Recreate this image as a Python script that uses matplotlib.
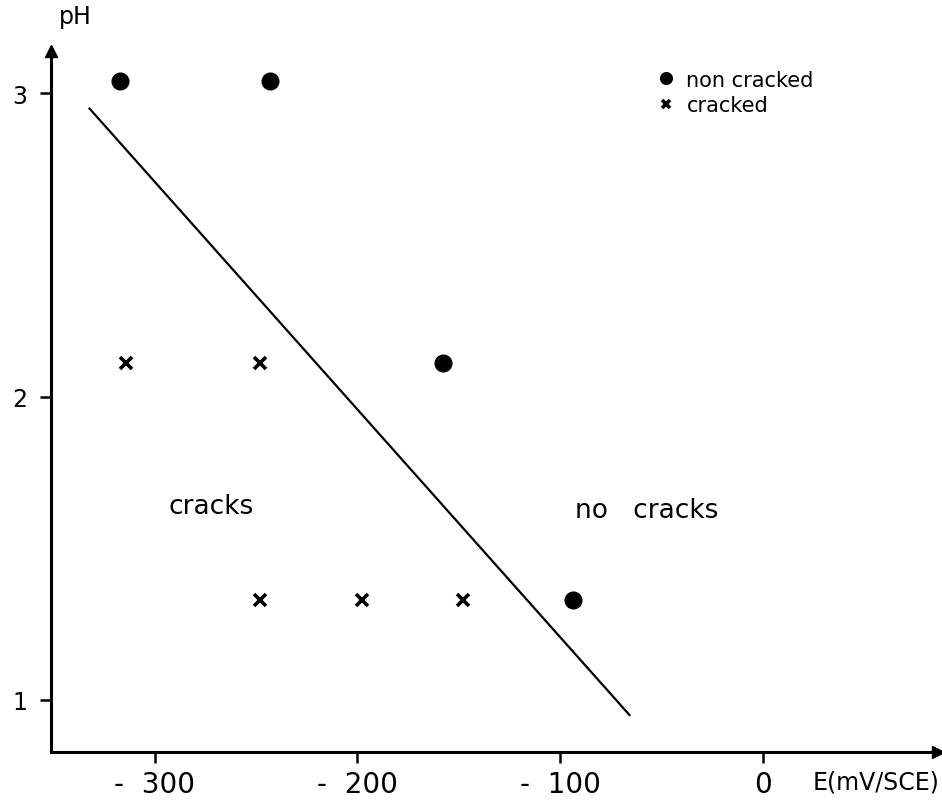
import matplotlib
matplotlib.use("Agg")
import matplotlib.pyplot as plt

# Data (E in mV/SCE, pH)
noncracked_E = [-317, -243, -158, -94]
noncracked_pH = [3.04, 3.04, 2.11, 1.33]
cracked_E = [-314, -248, -248, -198, -148]
cracked_pH = [2.11, 2.11, 1.33, 1.33, 1.33]
boundary_E = [-332, -66]
boundary_pH = [2.95, 0.95]

x_ticks = [-300, -200, -100, 0]
x_ticklabels = ["-  300", "-  200", "-  100", "0"]
y_ticks = [1, 2, 3]
y_ticklabels = ["1", "2", "3"]

fig = plt.figure(figsize=(9.42, 8.03), dpi=100)
ax = fig.add_axes([51/942, 50/803, (938-51)/942, (753-52)/803])
ax.set_xlim(-351, 86)
ax.set_ylim(0.828, 3.14)

for s in ["top", "right"]:
    ax.spines[s].set_visible(False)
for s in ["left", "bottom"]:
    ax.spines[s].set_linewidth(2.2)
ax.plot(1, 0, ">", color="black", markersize=9, transform=ax.transAxes, clip_on=False)
ax.plot(0, 1, "^", color="black", markersize=9, transform=ax.transAxes, clip_on=False)

ax.plot(boundary_E, boundary_pH, color="black", linewidth=1.6)
ax.plot(noncracked_E, noncracked_pH, "o", color="black", markersize=12, linestyle="none",
        label="non cracked")
ax.plot(cracked_E, cracked_pH, "x", color="black", markersize=8, markeredgewidth=2.6,
        linestyle="none", label="cracked")

ax.set_xticks(x_ticks)
ax.set_xticklabels(x_ticklabels, fontsize=20)
ax.set_yticks(y_ticks)
ax.set_yticklabels(y_ticklabels, fontsize=17)
ax.tick_params(axis="both", direction="out", length=8, width=1.8, pad=5)
ax.tick_params(axis="y", pad=9)

ax.text(-293, 1.64, "cracks", fontsize=19, va="center")
ax.text(-93, 1.625, "no   cracks", fontsize=19, va="center")

fig.text(75/942, 1 - 17/803, "pH", fontsize=17, ha="center", va="center")
fig.text(876/942, 1 - 783/803, "E(mV/SCE)", fontsize=17, ha="center", va="center")

leg = ax.legend(loc="upper left", bbox_to_anchor=(0.66, 1.0), frameon=False,
                fontsize=15, handletextpad=0.5, labelspacing=0.25, handlelength=1.0,
                markerscale=0.7)

fig.savefig("out.png", dpi=100, facecolor="white")
